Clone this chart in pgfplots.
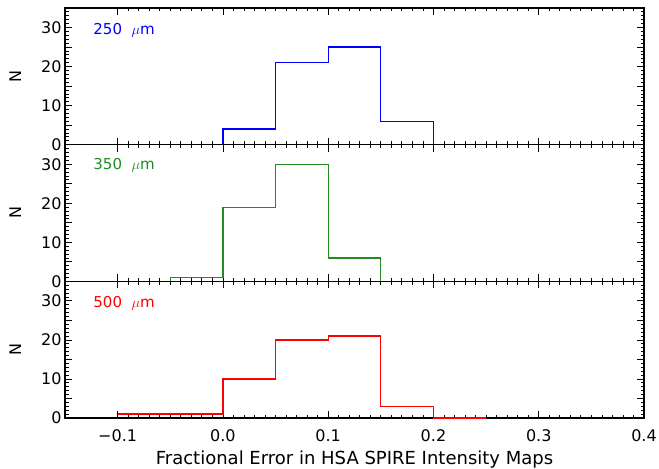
\documentclass[border=0pt]{standalone}
\usepackage{fontspec}
\setmainfont{DejaVu Sans}
\usepackage{pgfplots}
\pgfplotsset{compat=1.18}
\usepgfplotslibrary{groupplots}
\definecolor{idlgreen}{RGB}{34,139,34}
\definecolor{idlblue}{RGB}{0,0,255}
\definecolor{idlred}{RGB}{255,0,0}
\begin{document}
\begin{tikzpicture}
\begin{groupplot}[
  group style={group size=1 by 3, vertical sep=0pt},
  width=579pt, height=136.67pt, scale only axis,
  xmin=-0.15, xmax=0.4, ymin=0, ymax=35,
  xtick={-0.1,0,0.1,0.2,0.3,0.4},
  minor x tick num=9,
  ytick={0,5,...,35},
  yticklabels={0,{},10,{},20,{},30,{}},
  minor y tick num=4,
  xticklabels={},
  tick align=inside,
  major tick length=7pt, minor tick length=3.5pt,
  axis line style={line width=1.1pt},
  every tick/.style={black, line width=0.8pt},
  tick label style={font=\fontsize{16}{19}\selectfont},
  ylabel={N},
  ylabel style={font=\fontsize{16}{19}\selectfont, at={(axis description cs:-0.086,0.5)}, anchor=center},
  clip=false,
  /pgf/number format/assume math mode=true,
]
\nextgroupplot
\addplot[const plot, idlblue, line width=1.2pt] coordinates {(-0.15,0) (0.0,4) (0.05,21) (0.1,25) (0.15,6) (0.2,0) (0.4,0)};
\node[anchor=west, text=idlblue, font=\fontsize{15}{18}\selectfont] at (rel axis cs:0.043,0.84) {250\ \ $\mu$m};
\nextgroupplot
\addplot[const plot, idlgreen, line width=1.2pt] coordinates {(-0.15,0) (-0.05,1) (0.0,19) (0.05,30) (0.1,6) (0.15,0) (0.4,0)};
\node[anchor=west, text=idlgreen, font=\fontsize{15}{18}\selectfont] at (rel axis cs:0.043,0.85) {350\ \ $\mu$m};
\nextgroupplot[
  xticklabels={−0.1,0.0,0.1,0.2,0.3,0.4},
  xticklabel style={yshift=-8pt},
  xlabel={Fractional Error in HSA SPIRE Intensity Maps},
  xlabel style={font=\fontsize{18}{21}\selectfont, yshift=-2pt},
]
\addplot[const plot, idlred, line width=1.2pt] coordinates {(-0.1,1) (0.0,10) (0.05,20) (0.1,21) (0.15,3) (0.2,0) (0.25,0)};
\node[anchor=west, text=idlred, font=\fontsize{15}{18}\selectfont] at (rel axis cs:0.043,0.84) {500\ \ $\mu$m};
\end{groupplot}
\pgfresetboundingbox
\path[use as bounding box] ([xshift=-65pt,yshift=8pt]group c1r1.north west) rectangle ([xshift=15pt,yshift=-51pt]group c1r3.south east);
\end{tikzpicture}
\end{document}
